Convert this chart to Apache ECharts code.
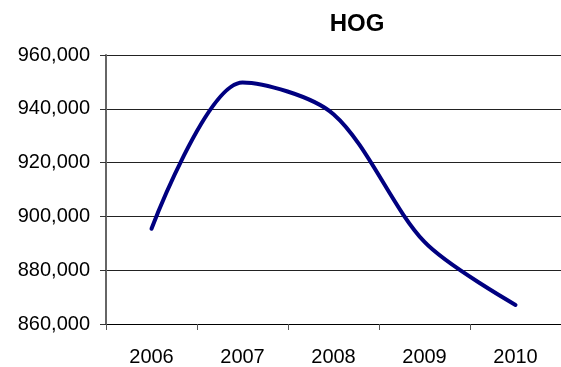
<!DOCTYPE html>
<html><head><meta charset="utf-8">
<script src="https://cdn.jsdelivr.net/npm/echarts@6/dist/echarts.min.js"></script>
<style>html,body{margin:0;padding:0;background:#fff}#c{width:561px;height:367px}</style>
</head><body><div id="c"></div>
<script>
const categories = ['2006', '2007', '2008', '2009', '2010'];
const values = [895400, 949800, 938000, 890500, 867100];
const yTicks = { min: 860000, max: 960000, interval: 20000 };

const chart = echarts.init(document.getElementById('c'), null, { renderer: 'canvas' });
chart.setOption({
  animation: false,
  backgroundColor: '#fff',
  title: {
    text: 'HOG', left: 352, top: 7, textAlign: 'center',
    textStyle: { fontFamily: 'Liberation Sans, Arial', fontWeight: 'bold', fontSize: 24, color: '#000' }
  },
  grid: { left: 106, right: -6, top: 55, bottom: 41, containLabel: false },
  xAxis: {
    type: 'category', data: categories, boundaryGap: true,
    axisLine: { lineStyle: { color: '#000', width: 1 } },
    axisTick: { show: true, length: 6, lineStyle: { color: '#555' } },
    axisLabel: { margin: 23, fontFamily: 'Liberation Sans, Arial', fontSize: 20, color: '#000' },
    splitLine: { show: false }
  },
  yAxis: {
    type: 'value', min: yTicks.min, max: yTicks.max, interval: yTicks.interval,
    axisLine: { show: true, lineStyle: { color: '#666', width: 2 } },
    axisTick: { show: true, length: 6, lineStyle: { color: '#333' } },
    axisLabel: {
      margin: 16, fontFamily: 'Liberation Sans, Arial', fontSize: 20, color: '#000',
      formatter: v => v.toLocaleString('en-US')
    },
    splitLine: { show: true, lineStyle: { color: '#222', width: 1 } }
  },
  series: [{
    type: 'line', data: values, smooth: 0.3, symbol: 'none',
    lineStyle: { color: '#000080', width: 4, cap: 'round' }
  }]
});
</script></body></html>
